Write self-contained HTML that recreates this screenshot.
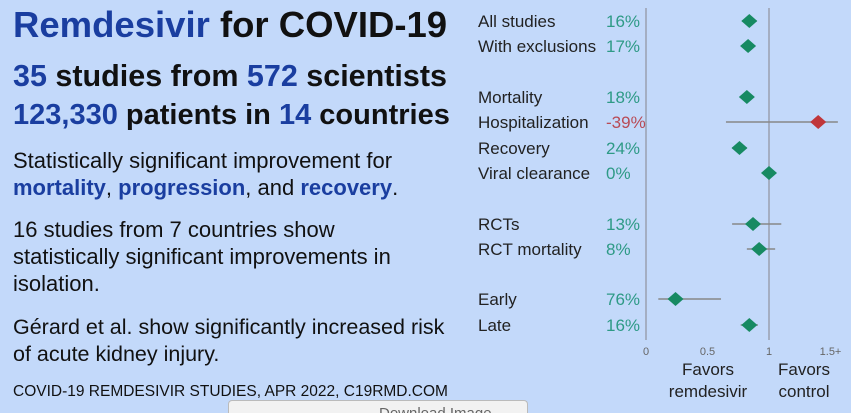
<!DOCTYPE html>
<html style="overflow:hidden;width:851px;height:413px"><head><meta charset="utf-8"><style>
html,body{margin:0;width:851px;height:413px;overflow:hidden}
body{background:#c3d9fa;font-family:"Liberation Sans",sans-serif;position:relative}
.t{position:absolute;white-space:nowrap;color:#111}
.b{color:#1a3ea0;font-weight:bold}
</style></head><body>
<div class="t" style="left:13px;top:4px;font-size:36.5px;font-weight:bold"><span class="b">Remdesivir</span> for COVID-19</div>
<div class="t" style="left:13px;top:59px;font-size:30.5px;font-weight:bold"><span class="b">35</span> studies from <span class="b">572</span> scientists</div>
<div class="t" style="left:13px;top:99px;font-size:29px;font-weight:bold"><span class="b">123,330</span> patients in <span class="b">14</span> countries</div>
<div class="t" style="left:13px;top:147px;font-size:22px;line-height:27px">Statistically significant improvement for<br><span class="b">mortality</span>, <span class="b">progression</span>, and <span class="b">recovery</span>.</div>
<div class="t" style="left:13px;top:216px;font-size:22px;line-height:27px">16 studies from 7 countries show<br>statistically significant improvements in<br>isolation.</div>
<div class="t" style="left:13px;top:314px;font-size:21.5px;line-height:27px">Gérard et al. show significantly increased risk<br>of acute kidney injury.</div>
<div class="t" style="left:13px;top:383px;font-size:15.5px">COVID-19 REMDESIVIR STUDIES, APR 2022, C19RMD.COM</div>
<div style="position:absolute;left:228px;top:400px;width:300px;height:13px;overflow:hidden;background:#f2f2f2;border:1px solid #bbb;border-bottom:none;border-radius:4px 4px 0 0;font-size:15px;color:#666;padding-left:150px;box-sizing:border-box;line-height:26px">Download Image</div>
<svg id="c" width="851" height="413" style="position:absolute;left:0;top:0"></svg>
<script>
const labels=["All studies","With exclusions","Mortality","Hospitalization","Recovery","Viral clearance","RCTs","RCT mortality","Early","Late"];
const pcts=["16%","17%","18%","-39%","24%","0%","13%","8%","76%","16%"];
const rr=[0.84,0.83,0.82,1.40,0.76,1.0,0.87,0.92,0.24,0.84];
const lo=[0.78,0.78,0.77,0.65,0.70,0.96,0.70,0.82,0.10,0.77];
const hi=[0.90,0.88,0.87,1.56,0.82,1.04,1.10,1.05,0.61,0.91];
const rowY=[21,46,97,122,148,173,224,249,299,325];
const ticks=[0,0.5,1,1.5];
const tickLabels=["0","0.5","1","1.5+"];
const NS="http://www.w3.org/2000/svg",svg=document.getElementById('c');
const xs=v=>646+v*123;
function mk(t,a,txt){const e=document.createElementNS(NS,t);for(const k in a)e.setAttribute(k,a[k]);if(txt!=null)e.textContent=txt;svg.appendChild(e);return e;}
let e;
e=mk('line',{x1:xs(0),x2:xs(0),y1:8,y2:340,stroke:'#999fb0','stroke-width':1.5});


e=mk('line',{x1:xs(1),x2:xs(1),y1:8,y2:340,stroke:'#999fb0','stroke-width':1.5});


ticks.forEach((t,i)=>{
 e=mk('text',{x:xs(t),y:355,'font-size':11,fill:'#666','text-anchor':'middle','font-family':'Liberation Sans'},tickLabels[i]);
 
 
});
[["Favors","remdesivir",708],["Favors","control",804]].forEach(f=>{
 e=mk('text',{x:f[2],y:375,'font-size':17,fill:'#222','text-anchor':'middle','font-family':'Liberation Sans'},f[0]);
 
 
 e=mk('text',{x:f[2],y:397,'font-size':17,fill:'#222','text-anchor':'middle','font-family':'Liberation Sans'},f[1]);
 
 
});
labels.forEach((l,i)=>{
 const y=rowY[i],bad=rr[i]>1.05;
 e=mk('text',{x:478,y:y+6,'font-size':17,fill:'#222','font-family':'Liberation Sans'},l);
 
 
 e=mk('text',{x:606,y:y+6,'font-size':17,fill:bad?'#b84a55':'#2e9a86','font-family':'Liberation Sans'},pcts[i]);
 
 
 e=mk('line',{x1:xs(lo[i]),x2:xs(Math.min(hi[i],1.56)),y1:y,y2:y,stroke:'#888','stroke-width':1.5});
 
 
 const cx=xs(rr[i]);
 e=mk('polygon',{points:`${cx-8},${y} ${cx},${y-7} ${cx+8},${y} ${cx},${y+7}`,fill:bad?'#c0363a':'#178a62'});
 
 
});
</script>
</body></html>
